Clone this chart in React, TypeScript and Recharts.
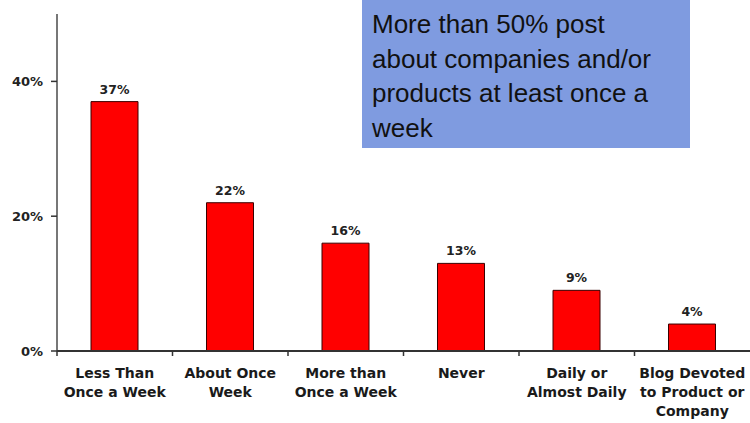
import React from 'react';
import { BarChart, Bar, XAxis, YAxis, LabelList } from 'recharts';

const categories = [
  'Less Than\nOnce a Week',
  'About Once\nWeek',
  'More than\nOnce a Week',
  'Never',
  'Daily or\nAlmost Daily',
  'Blog Devoted\nto Product or\nCompany',
];
const values = [37, 22, 16, 13, 9, 4];
const yTicks = [0, 20, 40];
const calloutLines = [
  'More than 50% post',
  'about companies and/or',
  'products at least once a',
  'week',
];

const data = categories.map((c, i) => ({ name: c, value: values[i] }));

const FONT = '"DejaVu Sans", Verdana, sans-serif';
const CHART_W = 750;
const CHART_H = 423;
const Y_W = 57;
const PLOT_W = CHART_W - Y_W;

const XTick = (props: any) => {
  const { x, y, payload } = props;
  const half = PLOT_W / categories.length / 2;
  const lines = String(payload.value).split('\n');
  return (
    <g>
      <line x1={x - half} x2={x - half} y1={y} y2={y + 5} stroke="#333" strokeWidth={1.5} />
      <text
        x={x}
        y={y + 27}
        textAnchor="middle"
        fontFamily={FONT}
        fontWeight="bold"
        fontSize={14}
        fill="#1a1a1a"
      >
        {lines.map((l, i) => (
          <tspan key={i} x={x} dy={i === 0 ? 0 : 19}>
            {l}
          </tspan>
        ))}
      </text>
    </g>
  );
};

const ValueLabel = (props: any) => {
  const { x, y, width, value } = props;
  return (
    <text
      x={x + width / 2}
      y={y - 8}
      textAnchor="middle"
      fontFamily={FONT}
      fontWeight="bold"
      fontSize={12.5}
      fill="#222"
    >
      {value}%
    </text>
  );
};

export default function App() {
  return (
    <div style={{ position: 'absolute', left: 0, top: 0, width: CHART_W, height: CHART_H, background: '#fff' }}>
      <BarChart
        width={CHART_W}
        height={CHART_H}
        data={data}
        margin={{ top: 14, right: 0, left: 0, bottom: 0 }}
      >
        <YAxis
          width={Y_W}
          domain={[0, 50]}
          ticks={yTicks}
          tickFormatter={(v: number) => `${v}%`}
          axisLine={{ stroke: '#777', strokeWidth: 2 }}
          tickLine={{ stroke: '#333', strokeWidth: 1.5 }}
          tickSize={6}
          tickMargin={8}
          tick={{ fontFamily: FONT, fontWeight: 'bold', fontSize: 13, fill: '#222' }}
        />
        <XAxis
          dataKey="name"
          height={72}
          interval={0}
          tickSize={0}
          tickMargin={0}
          tickLine={false}
          axisLine={{ stroke: '#333', strokeWidth: 2 }}
          tick={<XTick />}
        />
        <Bar
          dataKey="value"
          fill="#ff0000"
          stroke="#3a0000"
          strokeWidth={1}
          barSize={47}
          isAnimationActive={false}
        >
          <LabelList dataKey="value" content={<ValueLabel />} />
        </Bar>
      </BarChart>
      <div
        style={{
          position: 'absolute',
          left: 362,
          top: 0,
          width: 328,
          height: 148,
          background: '#7f9be0',
          boxSizing: 'border-box',
          paddingLeft: 10,
          paddingTop: 7,
          fontFamily: '"Liberation Sans", Arial, sans-serif',
          fontSize: 26,
          lineHeight: '34.7px',
          color: '#111',
          whiteSpace: 'nowrap',
        }}
      >
        {calloutLines.map((l, i) => (
          <div key={i}>{l}</div>
        ))}
      </div>
    </div>
  );
}
